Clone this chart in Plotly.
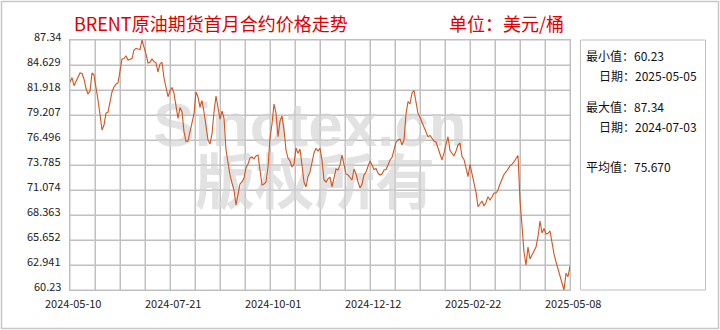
import plotly.graph_objects as go

# ---- data ----
title_text = "BRENT原油期货首月合约价格走势"
unit_text = "单位：美元/桶"

prices = [
    82.79, 83.25, 82.38, 82.79, 83.19, 83.76, 83.71, 83.11, 82.08, 81.48,
    81.81, 83.76, 83.54, 82.35, 80.83, 79.26, 77.58, 78.12, 79.42, 79.53,
    80.83, 81.70, 82.24, 82.57, 82.68, 83.87, 85.28, 85.33, 85.61, 85.17,
    85.28, 85.33, 86.26, 86.44, 86.36, 86.31, 87.34, 86.61, 85.82, 84.85,
    84.92, 85.28, 84.99, 84.85, 83.87, 84.74, 84.95, 83.22, 82.19, 81.19,
    81.81, 82.19, 81.56, 80.02, 78.85, 80.02, 79.57, 77.40, 76.32, 76.39,
    77.40, 78.48, 79.35, 81.70, 81.16, 80.07, 80.78, 79.53, 77.80, 76.50,
    76.06, 77.15, 79.53, 81.27, 79.97, 78.77, 79.64, 78.88, 75.41, 73.79,
    72.70, 71.83, 71.07, 69.45, 70.75, 71.72, 71.94, 72.37, 73.46, 73.89,
    74.54, 74.65, 74.44, 74.76, 74.87, 73.03, 71.62, 71.72, 71.94, 73.57,
    76.72, 78.23, 80.40, 79.42, 76.85, 78.55, 79.10, 77.58, 75.41, 74.54,
    74.22, 73.57, 73.89, 75.63, 75.05, 75.52, 73.79, 71.94, 71.40, 72.52,
    73.03, 74.11, 75.09, 75.60, 75.30, 75.60, 74.33, 72.16, 71.94, 72.27,
    72.48, 71.40, 72.59, 73.35, 73.24, 73.79, 74.87, 73.60, 72.81, 72.70,
    72.48, 72.16, 73.35, 72.81, 71.97, 71.29, 71.72, 72.70, 73.03, 73.60,
    74.22, 73.79, 73.30, 73.41, 72.89, 72.70, 72.81, 73.24, 73.30, 73.79,
    74.33, 74.60, 75.30, 76.23, 76.50, 76.61, 75.95, 76.50, 79.32, 80.65,
    80.40, 81.59, 81.86, 80.78, 79.39, 78.94, 78.40, 77.91, 77.42, 76.85,
    76.98, 76.68, 76.39, 76.28, 75.60, 74.76, 74.33, 75.09, 76.06, 76.85,
    75.36, 75.09, 74.76, 75.30, 75.95, 76.17, 74.70, 74.39, 73.24, 72.52,
    73.84, 72.81, 71.62, 70.81, 69.26, 69.56, 69.88, 69.34, 69.72, 70.35,
    69.99, 70.31, 70.75, 70.75, 71.07, 71.72, 72.32, 72.76, 73.03, 73.43,
    73.68, 73.89, 74.11, 74.49, 74.82, 69.99, 66.52, 64.35, 62.94, 64.89,
    63.59, 64.03, 64.62, 64.89, 66.01, 67.71, 66.41, 66.90, 66.30, 66.38,
    66.63, 65.11, 64.14, 63.27, 62.40, 61.64, 60.99, 60.23, 62.04, 61.67,
    62.83,
]

x_tick_labels = ["2024-05-10", "2024-07-21", "2024-10-01",
                 "2024-12-12", "2025-02-22", "2025-05-08"]
y_tick_values = [60.23, 62.941, 65.652, 68.363, 71.074, 73.785,
                 76.496, 79.207, 81.918, 84.629, 87.34]
y_tick_labels = ["60.23", "62.941", "65.652", "68.363", "71.074", "73.785",
                 "76.496", "79.207", "81.918", "84.629", "87.34"]

stat_labels = ["最小值：60.23", "日期：2025-05-05",
               "最大值：87.34", "日期：2024-07-03",
               "平均值：75.670"]

watermark_1 = "Sinotex.cn"
watermark_2 = "版权所有"

# ---- figure ----
n = len(prices)
xs = list(range(n))
last = n - 1
n_cols = 20                      # vertical grid columns
per_label = n_cols // (len(x_tick_labels) - 1)
x_grid_vals = [i * last / n_cols for i in range(n_cols + 1)]
x_label_vals = [x_grid_vals[i * per_label] for i in range(len(x_tick_labels))]
y_lo, y_hi = min(y_tick_values), max(y_tick_values)
y_span = y_hi - y_lo

FONT = "Noto Sans CJK SC"
GRID = "#c0c0c0"

# grid drawn as a background line trace
grid_x, grid_y = [], []
for gx in x_grid_vals:
    grid_x += [gx, gx, None]
    grid_y += [y_lo, y_hi, None]
for gy in y_tick_values:
    grid_x += [0, last, None]
    grid_y += [gy, gy, None]

fig = go.Figure()
# watermark as background text traces (drawn under grid and line)
fig.add_trace(go.Scatter(
    x=[last * 0.48], y=[y_lo + y_span * 0.64], mode="text",
    text=[watermark_1], textposition="middle center",
    textfont=dict(family="Liberation Sans", size=62, color="#e2e2e2", weight="bold"),
    hoverinfo="skip", showlegend=False, cliponaxis=False,
))
fig.add_trace(go.Scatter(
    x=[last * 0.49], y=[y_lo + y_span * 0.405], mode="text",
    text=[watermark_2], textposition="middle center",
    textfont=dict(family=FONT, size=60, color="#e2e2e2", weight="bold"),
    hoverinfo="skip", showlegend=False, cliponaxis=False,
))
fig.add_trace(go.Scatter(
    x=grid_x, y=grid_y, mode="lines",
    line=dict(color=GRID, width=1),
    hoverinfo="skip", showlegend=False,
))
fig.add_trace(go.Scatter(
    x=xs, y=prices, mode="lines",
    line=dict(color="#d4541c", width=1.1),
    hoverinfo="skip", showlegend=False,
))

fig.update_layout(
    width=720, height=330,
    margin=dict(l=70, r=150, t=40, b=40),
    paper_bgcolor="white",
    plot_bgcolor="white",
    font=dict(family=FONT, size=11, color="#222222"),
    showlegend=False,
)

fig.update_xaxes(
    range=[0, last], showticklabels=False,
    tickmode="array", tickvals=x_grid_vals,
    showgrid=True, gridcolor=GRID, gridwidth=1,
    showline=True, linecolor=GRID, linewidth=1, mirror=True,
    zeroline=False, ticks="",
)
fig.update_yaxes(
    range=[y_lo, y_hi], showticklabels=False,
    tickmode="array", tickvals=y_tick_values,
    showgrid=True, gridcolor=GRID, gridwidth=1,
    showline=True, linecolor=GRID, linewidth=1, mirror=True,
    zeroline=False, ticks="",
)

# y tick labels (sit slightly above their grid lines)
for val, txt in zip(y_tick_values, y_tick_labels):
    fig.add_annotation(text=txt, xref="paper", yref="y", x=0, y=val,
                       xanchor="right", yanchor="middle", xshift=-7, yshift=4,
                       showarrow=False,
                       font=dict(family=FONT, size=11, color="#222222"))
# x tick labels
for val, txt in zip(x_label_vals, x_tick_labels):
    fig.add_annotation(text=txt, xref="x", yref="paper", x=val, y=0,
                       xanchor="center", yanchor="top", xshift=3, yshift=-3,
                       showarrow=False,
                       font=dict(family=FONT, size=11, color="#222222"))

# outer frame
fig.add_shape(type="rect", xref="paper", yref="paper",
              x0=(1.5 - 70) / 500, x1=(718.5 - 70) / 500,
              y0=(290 - 328.5) / 250, y1=(290 - 1.5) / 250,
              line=dict(color="#c8c8c8", width=1.5), fillcolor="rgba(0,0,0,0)")
# right info box
fig.add_shape(type="rect", xref="paper", yref="paper",
              x0=(580.5 - 70) / 500, x1=(705.5 - 70) / 500, y0=0, y1=1,
              line=dict(color="#c0c0c0", width=1), fillcolor="rgba(0,0,0,0)")

# title and unit
fig.add_annotation(text=title_text, xref="paper", yref="paper",
                   x=(72 - 70) / 500, y=(290 - 23) / 250,
                   xanchor="left", yanchor="middle", showarrow=False,
                   font=dict(family=FONT, size=18, color="#e00000"))
fig.add_annotation(text=unit_text, xref="paper", yref="paper",
                   x=(447 - 70) / 500, y=(290 - 23) / 250,
                   xanchor="left", yanchor="middle", showarrow=False,
                   font=dict(family=FONT, size=18, color="#e00000"))

# stats text
stat_pos = [(583.5, 56), (596.5, 75.5), (583.5, 106), (596.5, 126), (583.5, 166.5)]
for label, (px, py) in zip(stat_labels, stat_pos):
    fig.add_annotation(text=label, xref="paper", yref="paper",
                       x=(px - 70) / 500, y=(290 - py) / 250,
                       xanchor="left", yanchor="middle", showarrow=False,
                       font=dict(family=FONT, size=12, color="#111111"))

fig.write_html("out.html")
